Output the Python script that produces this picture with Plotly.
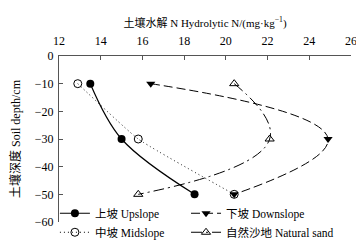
import plotly.graph_objects as go

depth = [-10, -30, -50]
upslope = [13.5, 15.0, 18.5]
midslope = [12.9, 15.8, 20.4]
downslope = [16.4, 24.9, 20.4]
natural_sand = [20.4, 22.1, 15.8]

names = ["上坡 Upslope", "中坡 Midslope", "下坡 Downslope", "自然沙地 Natural sand"]

FONT = "Liberation Serif, Times New Roman, Noto Sans CJK SC"

fig = go.Figure()
fig.add_trace(go.Scatter(x=upslope, y=depth, name=names[0], mode="lines+markers",
                         line=dict(color="black", width=1.2, shape="spline", smoothing=1),
                         marker=dict(symbol="circle", size=8, color="black"), legend="legend"))
fig.add_trace(go.Scatter(x=midslope, y=depth, name=names[1], mode="lines+markers",
                         line=dict(color="black", width=1, dash="1px,3px", shape="spline", smoothing=0.4),
                         marker=dict(symbol="circle-open", size=8, color="black", line=dict(width=1)),
                         legend="legend"))
fig.add_trace(go.Scatter(x=natural_sand, y=depth, name=names[3], mode="lines+markers",
                         line=dict(color="black", width=1, dash="11px,4px,2px,4px", shape="spline", smoothing=1.3),
                         marker=dict(symbol="triangle-up-open", size=8, color="black", line=dict(width=1)),
                         legend="legend2", legendrank=2))
fig.add_trace(go.Scatter(x=downslope, y=depth, name=names[2], mode="lines+markers",
                         line=dict(color="black", width=1, dash="9px,4px", shape="spline", smoothing=1.3),
                         marker=dict(symbol="triangle-down", size=8, color="black"),
                         legend="legend2", legendrank=1))

leg_common = dict(orientation="v", yanchor="top", y=0.14, bgcolor="rgba(0,0,0,0)",
                  font=dict(size=11.5, family=FONT), tracegroupgap=0, traceorder="normal")

fig.update_layout(
    width=364, height=251,
    margin=dict(l=51, r=21, t=48, b=17),
    paper_bgcolor="white", plot_bgcolor="white",
    font=dict(family=FONT, size=12, color="black"),
    showlegend=True,
    legend=dict(x=-0.014, xanchor="left", **leg_common),
    legend2=dict(x=0.435, xanchor="left", **leg_common),
    xaxis=dict(side="top", range=[12, 26], tickvals=[12, 14, 16, 18, 20, 22, 24, 26],
               showline=True, linecolor="#555", linewidth=1, ticks="inside", ticklen=4,
               tickcolor="#555", showgrid=False, zeroline=False, automargin=False,
               tickfont=dict(size=12), ticklabelstandoff=5,
               title=dict(text="土壤水解 N Hydrolytic N/(mg·kg<sup>−1</sup>)", standoff=4,
                          font=dict(size=11))),
    yaxis=dict(range=[-60, 0], tickvals=[0, -10, -20, -30, -40, -50, -60],
               showline=True, linecolor="#555", linewidth=1, ticks="inside", ticklen=4,
               tickcolor="#555", showgrid=False, zeroline=False, automargin=False,
               tickfont=dict(size=12), ticklabelstandoff=2,
               title=dict(text="土壤深度 Soil depth/cm", standoff=12, font=dict(size=12))),
)

fig.write_html("out.html")
